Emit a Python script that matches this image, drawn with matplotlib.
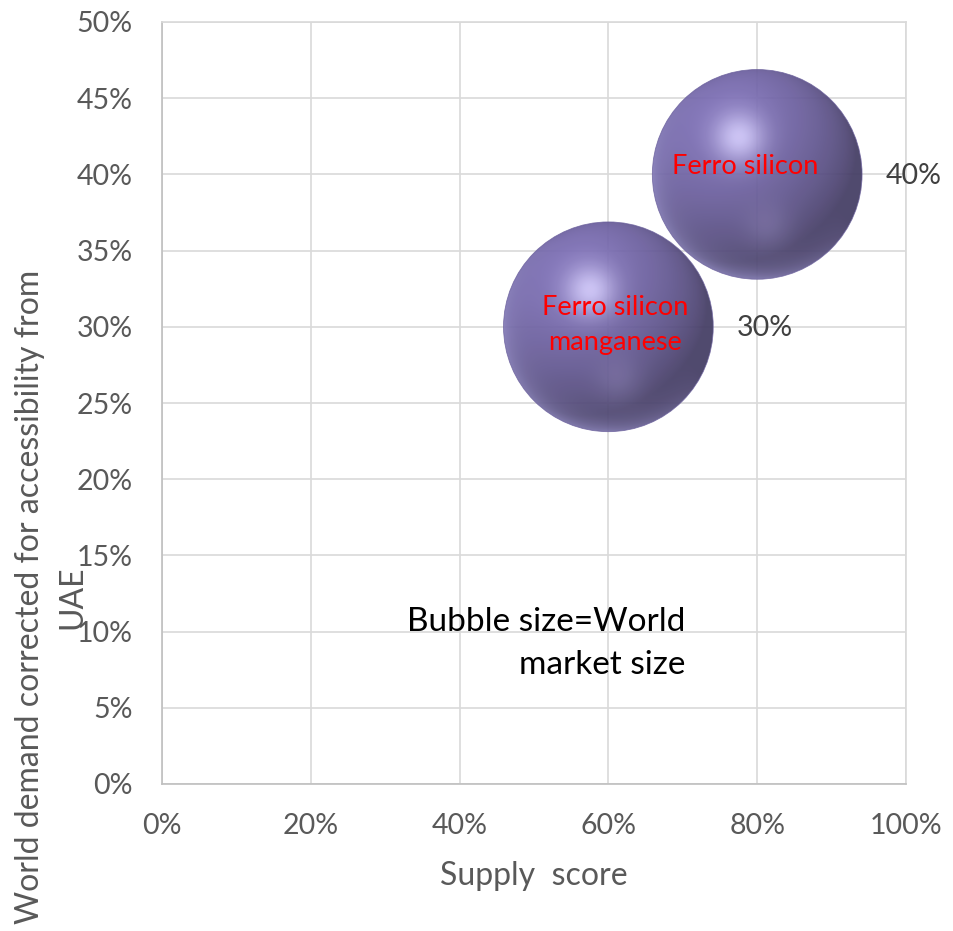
import numpy as np
import matplotlib
matplotlib.use("Agg")
import matplotlib.pyplot as plt
from matplotlib.ticker import PercentFormatter
from matplotlib.transforms import ScaledTranslation
from matplotlib.patches import Circle
from matplotlib.colors import to_rgb

# ---- data ----
products = ["Ferro silicon", "Ferro silicon\nmanganese"]
supply_score = [0.80, 0.60]
world_demand = [0.40, 0.30]
market_size = [1.0, 1.0]
x_ticks = [0.0, 0.2, 0.4, 0.6, 0.8, 1.0]
y_ticks = [0.0, 0.05, 0.10, 0.15, 0.20, 0.25, 0.30, 0.35, 0.40, 0.45, 0.50]

plt.rcParams['font.family'] = ['Lato', 'DejaVu Sans']

W, H = 954, 931
fig = plt.figure(figsize=(W / 100, H / 100), dpi=100)
ax = fig.add_axes([162 / W, 1 - 784 / H, (906 - 162) / W, (784 - 22) / H])

ax.set_xlim(0, 1.0)
ax.set_ylim(0, 0.5)
ax.set_xticks(x_ticks)
ax.set_yticks(y_ticks)
ax.xaxis.set_major_formatter(PercentFormatter(1.0, decimals=0))
ax.yaxis.set_major_formatter(PercentFormatter(1.0, decimals=0))
ax.grid(True, color="#d9d9d9", linewidth=1.2, zorder=0)
ax.set_axisbelow(True)
for s in ax.spines.values():
    s.set_color("#d9d9d9")
    s.set_linewidth(1.2)
ax.spines['left'].set_color("#bfbfbf")
ax.spines['bottom'].set_color("#bfbfbf")
ax.tick_params(axis='both', length=0, labelsize=20.5, labelcolor="#595959")
ax.tick_params(axis='y', pad=21)
ax.tick_params(axis='x', pad=21)

# ---- sphere shading texture ----
n = 400
u = np.linspace(-1, 1, n)
U, V = np.meshgrid(u, -u)            # V positive = up (image row 0 at top)
r2 = U ** 2 + V ** 2
Z = np.sqrt(np.clip(1 - r2, 0, None))
L = np.array([-0.35, 0.55, 0.76])
L = L / np.linalg.norm(L)
diff = np.clip(U * L[0] + V * L[1] + Z * L[2], 0, None)
base = np.array(to_rgb("#7164a6"))
img = base[None, None, :] * (0.60 + 0.48 * diff)[..., None]
# soft specular glow
glow = np.exp(-((U + 0.17) ** 2 + (V - 0.35) ** 2) / (2 * 0.17 ** 2))
hl = np.array(to_rgb("#d6ceff"))
img = img * (1 - 0.85 * glow[..., None]) + hl * 0.85 * glow[..., None]
# lower reflection
refl = np.exp(-((U - 0.1) ** 2 + (V + 0.5) ** 2) / (2 * 0.16 ** 2)) * 0.22
img = img * (1 - refl[..., None]) + np.array(to_rgb("#aaa0d8")) * refl[..., None]
# lower-left rim light
rim = (np.sqrt(r2) ** 8) * np.clip((-U - V) / np.sqrt(2) + 0.3, 0, 1) * 0.55
rim = np.clip(rim, 0, 0.7)
img = img * (1 - rim[..., None]) + np.array(to_rgb("#a9a2e6")) * rim[..., None]
img = np.clip(img, 0, 1)
alpha = np.where(r2 <= 1.0, 0.93, 0.0)
rgba = np.dstack([img, alpha])

# ---- bubbles ----
R_pt = 75.5            # radius in points for market_size == 1
px_per_x = ax.bbox.width / (ax.get_xlim()[1] - ax.get_xlim()[0])
px_per_y = ax.bbox.height / (ax.get_ylim()[1] - ax.get_ylim()[0])
for xv, yv, ms in zip(supply_score, world_demand, market_size):
    R = R_pt * np.sqrt(ms)
    R_px = R * fig.dpi / 72
    circ = Circle((0, 0), R / 72, transform=fig.dpi_scale_trans +
                  ScaledTranslation(xv, yv, ax.transData),
                  facecolor="none", edgecolor="none")
    ax.add_patch(circ)
    ex = R_px * 1.01 / px_per_x
    ey = R_px * 1.01 / px_per_y
    im = ax.imshow(rgba, extent=[xv - ex, xv + ex, yv - ey, yv + ey],
                   interpolation="bilinear", zorder=3, aspect="auto")
    im.set_clip_path(circ)
    ax.scatter([xv], [yv], s=(2 * R) ** 2, facecolors="none",
               edgecolors="#6a5f9c", linewidths=0.6, alpha=0.8, zorder=3.5)

ax.set_xlim(0, 1.0)
ax.set_ylim(0, 0.5)

# ---- labels ----
name_offsets = [(-9, 6), (5, 1)]
for name, xv, yv, off in zip(products, supply_score, world_demand, name_offsets):
    ax.annotate(name, (xv, yv), xytext=off, textcoords="offset points",
                ha="center", va="center", color="#ff0000", fontsize=19.5,
                zorder=10, linespacing=1.5)
for xv, yv, ms in zip(supply_score, world_demand, market_size):
    ax.annotate(f"{yv:.0%}", (xv, yv), xytext=(R_pt * np.sqrt(ms) + 17, -1),
                textcoords="offset points", ha="left", va="center",
                color="#404040", fontsize=20.5, zorder=10)

ax.text(0.703, 0.184, "Bubble size=World\nmarket size", transform=ax.transAxes,
        ha="right", va="center", multialignment="right", fontsize=24,
        color="#000000", linespacing=1.55)

fig.text(534 / W, 1 - 876 / H, "Supply  score", ha="center", va="center",
         fontsize=23, color="#595959")
fig.text(30 / W, 1 - 597 / H, "World demand corrected for accessibility from",
         rotation=90, ha="center", va="center", fontsize=23, color="#595959")
fig.text(72 / W, 1 - 597 / H, "UAE",
         rotation=90, ha="center", va="center", fontsize=23, color="#595959")

fig.savefig("out.png", dpi=100)
